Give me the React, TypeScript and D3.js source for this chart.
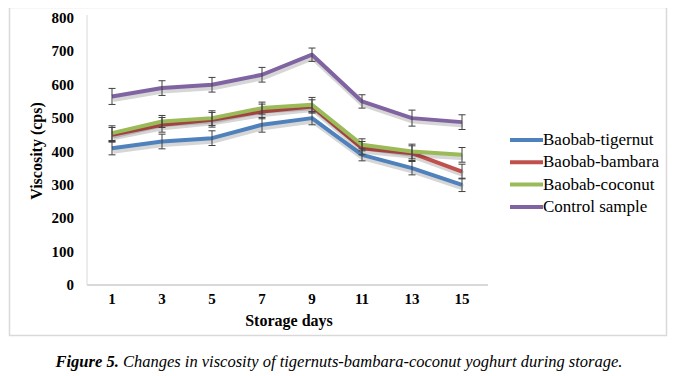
import React from "react";
import * as d3 from "d3";

const days = ["1", "3", "5", "7", "9", "11", "13", "15"];
const yTicks = [0, 100, 200, 300, 400, 500, 600, 700, 800];
const seriesNames = ["Baobab-tigernut", "Baobab-bambara", "Baobab-coconut", "Control sample"];
const colors = ["#4f81bd", "#c0504d", "#9bbb59", "#8064a2"];
const tigernut = [410, 430, 440, 480, 500, 390, 350, 300];
const bambara = [450, 480, 495, 520, 535, 410, 395, 340];
const coconut = [455, 490, 500, 530, 540, 420, 400, 390];
const control = [565, 590, 600, 630, 690, 550, 500, 488];
const errTigernut = [20, 22, 22, 22, 20, 18, 20, 20];
const errBambara = [22, 22, 22, 22, 20, 20, 22, 22];
const errCoconut = [22, 18, 22, 18, 22, 18, 22, 22];
const errControl = [24, 22, 22, 22, 20, 20, 24, 22];

const allValues = [tigernut, bambara, coconut, control];
const allErrors = [errTigernut, errBambara, errCoconut, errControl];

export default function App() {
  const W = 679, H = 376;
  const x = d3.scaleBand<string>().domain(days).range([87, 487]);
  const y = d3.scaleLinear().domain([0, 800]).range([285, 18]);
  const line = d3
    .line<number>()
    .x((_, i) => (x(days[i]) as number) + x.bandwidth() / 2)
    .y((d) => y(d));
  const ff = { fontFamily: '"Liberation Serif"' };
  return (
    <div style={{ margin: -8 }}>
      <svg width={W} height={H}>
        <rect x={0} y={0} width={W} height={H} fill="#fff" />
        <rect x={9.5} y={7.5} width={657} height={328} fill="none" stroke="#d9d9d9" strokeWidth={1.5} />
        <line x1={87} x2={87} y1={15} y2={285} stroke="#d9d9d9" strokeWidth={1} />
        <line x1={87} x2={488} y1={285} y2={285} stroke="#d9d9d9" strokeWidth={2} />
        {yTicks.map((t) => (
          <text key={t} x={74} y={y(t) + 5} textAnchor="end" fontWeight="bold" fontSize={15} style={ff}>
            {t}
          </text>
        ))}
        {days.map((d) => (
          <text key={d} x={(x(d) as number) + x.bandwidth() / 2} y={304} textAnchor="middle" fontWeight="bold" fontSize={15} style={ff}>
            {d}
          </text>
        ))}
        <text x={289} y={326} textAnchor="middle" fontWeight="bold" fontSize={16} style={ff}>
          Storage days
        </text>
        <text transform="translate(42,151) rotate(-90)" textAnchor="middle" fontWeight="bold" fontSize={16} style={ff}>
          Viscosity (cps)
        </text>
        {allValues.map((vals, si) => (
          <g key={si}>
            <path d={line(vals) || ""} transform="translate(1,2.5)" fill="none" stroke="#000" strokeOpacity={0.16} strokeWidth={6} strokeLinejoin="round" />
            <path d={line(vals) || ""} fill="none" stroke={colors[si]} strokeWidth={4} strokeLinejoin="round" />
          </g>
        ))}
        {allValues.map((vals, si) =>
          vals.map((v, i) => {
            const cx = (x(days[i]) as number) + x.bandwidth() / 2;
            const e = allErrors[si][i];
            return (
              <g key={`${si}-${i}`} stroke="#404040" strokeWidth={1}>
                <line x1={cx} x2={cx} y1={y(v + e)} y2={y(v - e)} />
                <line x1={cx - 3.5} x2={cx + 3.5} y1={y(v + e)} y2={y(v + e)} />
                <line x1={cx - 3.5} x2={cx + 3.5} y1={y(v - e)} y2={y(v - e)} />
              </g>
            );
          })
        )}
        {seriesNames.map((n, i) => {
          const ly = 140 + i * 22.3;
          return (
            <g key={n}>
              <line x1={510} x2={543} y1={ly} y2={ly} stroke={colors[i]} strokeWidth={4} />
              <text x={543} y={ly + 5} fontSize={17} style={ff}>
                {n}
              </text>
            </g>
          );
        })}
        <text x={339} y={367} textAnchor="middle" fontStyle="italic" fontSize={16.5} style={ff}>
          <tspan fontWeight="bold">Figure 5.</tspan> Changes in viscosity of tigernuts-bambara-coconut yoghurt during storage.
        </text>
      </svg>
    </div>
  );
}
